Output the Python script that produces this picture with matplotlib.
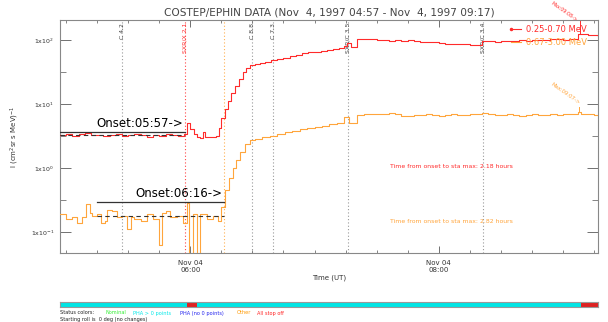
import matplotlib
matplotlib.use("Agg")
import matplotlib.pyplot as plt
from matplotlib.ticker import FixedLocator, NullFormatter

# ---------------- data (time in decimal hours UT, Nov 4 1997) ----------------
red_t = [4.95, 5.00, 5.05, 5.10, 5.15, 5.20, 5.25, 5.30, 5.35, 5.40, 5.45, 5.50,
         5.55, 5.60, 5.65, 5.70, 5.75, 5.80, 5.85, 5.90, 5.95, 5.97, 6.00, 6.03,
         6.05, 6.08, 6.10, 6.12, 6.15, 6.18, 6.21, 6.23, 6.25, 6.28, 6.30, 6.33,
         6.36, 6.39, 6.42, 6.45, 6.48, 6.52, 6.56, 6.60, 6.65, 6.70, 6.75, 6.80,
         6.85, 6.90, 6.95, 7.00, 7.05, 7.10, 7.15, 7.20, 7.24, 7.26, 7.29, 7.34,
         7.40, 7.45, 7.50, 7.55, 7.60, 7.65, 7.70, 7.75, 7.80, 7.85, 7.90, 7.95,
         8.00, 8.05, 8.10, 8.15, 8.20, 8.25, 8.30, 8.35, 8.40, 8.45, 8.50, 8.55,
         8.60, 8.65, 8.70, 8.75, 8.80, 8.85, 8.90, 8.95, 9.00, 9.05, 9.10, 9.12,
         9.15, 9.20, 9.25, 9.28]
red_f = [3.3, 3.4, 3.2, 3.35, 3.5, 3.25, 3.3, 3.15, 3.3, 3.4, 3.2, 3.3,
         3.45, 3.25, 3.1, 3.3, 3.2, 3.4, 3.3, 3.2, 3.35, 5.0, 4.0, 3.4,
         3.0, 2.9, 3.6, 3.1, 3.0, 3.1, 3.2, 4.2, 6.0, 8.5, 11, 15,
         19, 25, 32, 37, 40, 42, 44, 46, 48, 50, 53, 56,
         59, 62, 64, 66, 68, 70, 72, 75, 80, 90, 78, 102,
         103, 104, 101, 100, 98, 99, 97, 100, 96, 93, 94, 92,
         90, 88, 87, 88, 86, 84, 85, 95, 97, 93, 95, 98,
         97, 99, 98, 100, 101, 99, 102, 103, 101, 102, 104, 125,
         123, 120, 118, 117]

orange_t = [4.95, 5.00, 5.05, 5.09, 5.13, 5.16, 5.19, 5.21, 5.25, 5.28, 5.31, 5.33,
            5.37, 5.41, 5.45, 5.49, 5.52, 5.55, 5.60, 5.65, 5.70, 5.75, 5.77, 5.80,
            5.84, 5.89, 5.94, 5.97, 5.99, 6.02, 6.05, 6.08, 6.13, 6.18, 6.22, 6.25,
            6.28, 6.31, 6.34, 6.37, 6.40, 6.44, 6.48, 6.52, 6.58, 6.64, 6.70, 6.76,
            6.82, 6.88, 6.94, 7.00, 7.06, 7.12, 7.18, 7.22, 7.24, 7.28, 7.34, 7.40,
            7.45, 7.50, 7.55, 7.60, 7.65, 7.70, 7.75, 7.80, 7.85, 7.90, 7.95, 8.00,
            8.05, 8.10, 8.15, 8.20, 8.25, 8.30, 8.35, 8.40, 8.45, 8.50, 8.55, 8.60,
            8.65, 8.70, 8.75, 8.80, 8.85, 8.90, 8.95, 9.00, 9.05, 9.10, 9.12, 9.15,
            9.20, 9.25, 9.28]
orange_f = [0.19, 0.16, 0.17, 0.14, 0.17, 0.27, 0.20, 0.18, 0.19, 0.14, 0.15, 0.22,
            0.21, 0.17, 0.18, 0.11, 0.17, 0.16, 0.15, 0.19, 0.16, 0.063, 0.20, 0.21,
            0.17, 0.18, 0.14, 0.28, 0.02, 0.19, 0.02, 0.19, 0.16, 0.18, 0.15, 0.25,
            0.45, 0.7, 1.0, 1.35, 1.8, 2.4, 2.7, 2.8, 3.0, 3.2, 3.4, 3.6,
            3.8, 4.0, 4.2, 4.4, 4.6, 4.8, 5.0, 5.1, 6.2, 5.0, 6.7, 7.0,
            7.1, 6.9, 7.1, 7.2, 7.0, 6.6, 6.4, 6.7, 6.8, 6.9, 6.8, 6.6,
            6.7, 6.9, 6.8, 6.7, 6.9, 7.0, 7.2, 7.0, 6.8, 6.7, 6.9, 6.7,
            6.6, 6.8, 6.9, 6.7, 6.8, 6.9, 6.8, 6.9, 7.0, 7.1, 7.6, 7.0,
            6.9, 6.8, 6.7]

# event markers
event_t = [5.45, 5.957, 6.27, 6.497, 6.666, 7.27, 8.36]
event_lbl = ["C 4.2", "SXR/X 2.1", "", "C 8.8", "C 7.3", "SXR/C 3.5", "SXR/C 3.4"]
event_col = ["gray", "red", "orange", "gray", "gray", "gray", "gray"]

series_names = ["0.25-0.70 MeV", "0.67-3.00 MeV"]
onset_lbl = ["Onset:05:57->", "Onset:06:16->"]
onset_t = [5.957, 6.27]
onset_start = [4.95, 5.25]
onset_level = [3.6, 0.29]
bg_level = [3.3, 0.18]
max_lbl = ["Max:09:08->", "Max:09:07->"]
max_t = [9.14, 9.13]
rise_lbl = ["Time from onset to sta max: 2.18 hours",
            "Time from onset to sta max: 2.82 hours"]

ytick_vals = [100, 10, 1, 0.1]
ytick_lbls = ["1x10$^{2}$", "1x10$^{1}$", "1x10$^{0}$", "1x10$^{-1}$"]
xtick_vals = [6.0, 8.0]
xtick_lbls = ["Nov 04\n06:00", "Nov 04\n08:00"]

status_t = [4.95, 5.97, 6.05, 9.15, 9.2833]
status_c = ["cyan", "red", "cyan", "red"]
status_words = ["Nominal", "PHA > 0 points", "PHA (no 0 points)", "Other", "All stop off"]
status_wcol = ["#33ee33", "#00e8e8", "#2222ee", "#ff9900", "#ff2222"]

RED = "#ff2b2b"
ORG = "#ffa53c"
GRAY = "#707070"
col_map = {"gray": "#999999", "red": "#ff4444", "orange": "#ffb050",
           "cyan": "#00e5e5"}

# ---------------- figure ----------------
W, H = 608, 322
fig = plt.figure(figsize=(W / 100, H / 100), dpi=100)
ax = fig.add_axes([60 / W, 1 - 253 / H, 538 / W, 233 / H])
ax.set_yscale("log")
ax.set_xlim(4.95, 9.2833)
ax.set_ylim(10 ** -1.328, 10 ** 2.3125)

for t, lbl, c in zip(event_t, event_lbl, event_col):
    ax.axvline(t, color=col_map[c], lw=0.8, ls=(0, (1, 2)), zorder=1)
    if lbl:
        ax.text(t, 10 ** 2.27, lbl, rotation=90, ha="center", va="top",
                fontsize=4.4, color=("#ff3333" if c == "red" else "#444444"))

ax.step(red_t, red_f, where="post", color=RED, lw=0.8, zorder=3)
ax.step(orange_t, orange_f, where="post", color=ORG, lw=0.8, zorder=3)

# onset markers
for i in range(2):
    ax.plot([onset_start[i], onset_t[i]], [onset_level[i]] * 2, color="#333333", lw=0.9, zorder=4)
    ax.plot([onset_start[i], onset_t[i]], [bg_level[i]] * 2, color="#333333", lw=0.8,
            ls=(0, (4, 3)), zorder=4)
    ax.text(onset_t[i] - 0.015, onset_level[i] * 1.1, onset_lbl[i], ha="right", va="bottom",
            fontsize=8.5, color="black", zorder=5)

# max markers
ax.plot([max_t[0]] * 2, [10 ** 2.31, 125], color=RED, lw=0.7, clip_on=False)
ax.text(max_t[0] - 0.02, 10 ** 2.33, max_lbl[0], rotation=-35, ha="right", va="top",
        fontsize=3.4, color=RED, clip_on=False, rotation_mode="anchor")
ax.plot([max_t[1]] * 2, [7.6, 9.0], color=ORG, lw=0.7)
ax.text(max_t[1] - 0.01, 9.6, max_lbl[1], rotation=-35, ha="right", va="bottom",
        fontsize=3.8, color=ORG, rotation_mode="anchor")

# legend
ax.plot([8.58, 8.66], [148, 148], color=RED, lw=0.8)
ax.plot([8.58], [148], marker="o", ms=1.5, color=RED)
ax.text(8.70, 148, series_names[0], fontsize=6, color=RED, va="center")
ax.plot([8.58, 8.66], [93, 93], color=ORG, lw=0.8)
ax.text(8.70, 93, series_names[1], fontsize=6, color=ORG, va="center")

# rise times
ax.text(7.61, 1.05, rise_lbl[0], fontsize=4.4, color=RED, va="center")
ax.text(7.61, 0.144, rise_lbl[1], fontsize=4.4, color=ORG, va="center")

# axes styling
ax.set_yticks(ytick_vals)
ax.set_yticklabels(ytick_lbls)
ax.yaxis.set_minor_locator(FixedLocator([10 ** 1.5, 10 ** 0.5, 10 ** -0.5]))
ax.yaxis.set_minor_formatter(NullFormatter())
ax.set_xticks(xtick_vals)
ax.set_xticklabels(xtick_lbls)
ax.xaxis.set_minor_locator(FixedLocator([5.0 + 0.25 * k for k in range(18)]))
ax.tick_params(axis="y", which="major", direction="in", length=8, width=0.7,
               color=GRAY, labelsize=4.5, labelcolor="#333333", right=True, pad=4)
ax.tick_params(axis="y", which="minor", direction="in", length=4, width=0.6,
               color=GRAY, right=True)
ax.tick_params(axis="x", which="major", direction="in", length=5, width=0.7,
               color=GRAY, labelsize=5, labelcolor="#333333", top=True, pad=5)
ax.tick_params(axis="x", which="minor", direction="in", length=2.5, width=0.6,
               color=GRAY, top=True)
for s in ax.spines.values():
    s.set_color("#888888")
    s.set_linewidth(0.8)
ax.set_ylabel("I (cm$^2$sr s MeV)$^{-1}$", fontsize=5, color="#333333", labelpad=7)
ax.set_xlabel("Time (UT)", fontsize=5, color="#333333", labelpad=1)
ax.set_title("COSTEP/EPHIN DATA (Nov  4, 1997 04:57 - Nov  4, 1997 09:17)",
             fontsize=7.6, color="#444444", pad=3)

# status bar
sax = fig.add_axes([60 / W, 1 - 307 / H, 538 / W, 5 / H])
sax.set_xlim(4.95, 9.2833)
sax.set_ylim(0, 1)
for i, c in enumerate(status_c):
    sax.axvspan(status_t[i], status_t[i + 1], color=col_map[c] if c == "cyan" else "#dd2222", lw=0)
sax.set_xticks([])
sax.set_yticks([])
for s in sax.spines.values():
    s.set_color("#999999")
    s.set_linewidth(0.8)

fig.text(60 / W, 1 - 313 / H, "Status colors:", fontsize=3.6, color="#222222", va="center")
wx = [105, 133, 180, 237, 257]
for x, wd, c in zip(wx, status_words, status_wcol):
    fig.text(x / W, 1 - 313 / H, wd, fontsize=3.6, color=c, va="center")
fig.text(60 / W, 1 - 319.5 / H, "Starting roll is  0 deg (no changes)", fontsize=3.6,
         color="#222222", va="center")

fig.savefig("out.png", dpi=100)
